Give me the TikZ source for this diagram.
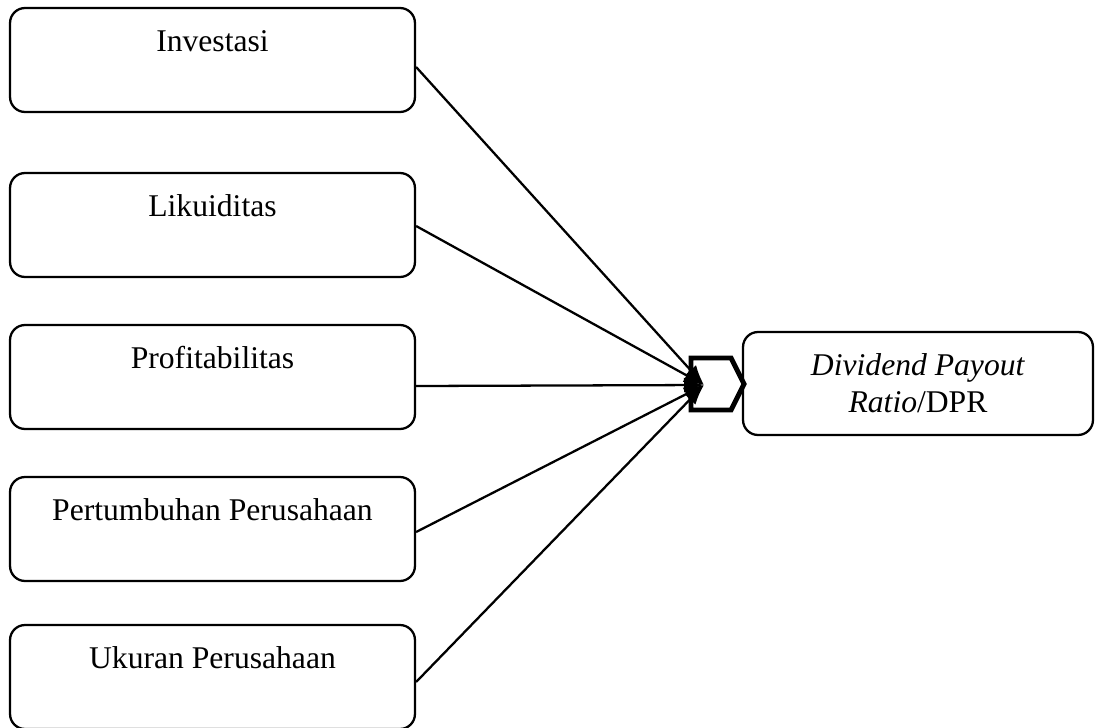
\documentclass[tikz,border=0pt]{standalone}
\usepackage{fontspec}
\setmainfont{Liberation Serif}
\usetikzlibrary{arrows.meta}

\begin{document}
\begin{tikzpicture}[x = 0.02cm, y = -0.02cm,
  box/.style = {draw, line width = 1.3pt, rounded corners = 0.3cm, minimum width = 8.1cm, minimum height = 2.08cm},
  boxtext/.style = {anchor = base, inner sep = 0pt, font = \fontsize{18}{20}\selectfont},
  link/.style = {line width = 1.3pt, -{Latex[length = 0.4cm, width = 0.3cm]}}]
\useasboundingbox (0,0) rectangle (1095,727);
\node [box] (inv) at (212.5,60) {};
\node [boxtext] (invtext) at ([yshift = -0.9cm]inv.north) {Investasi};
\node [box] (lik) at (212.5,225) {};
\node [boxtext] (liktext) at ([yshift = -0.9cm]lik.north) {Likuiditas};
\node [box] (prof) at (212.5,377) {};
\node [boxtext] (proftext) at ([yshift = -0.9cm]prof.north) {Profitabilitas};
\node [box] (pert) at (212.5,529) {};
\node [boxtext] (perttext) at ([yshift = -0.9cm]pert.north) {Pertumbuhan Perusahaan};
\node [box] (uk) at (212.5,677) {};
\node [boxtext] (uktext) at ([yshift = -0.9cm]uk.north) {Ukuran Perusahaan};
\node [box, minimum width = 7cm, minimum height = 2.06cm, align = center,
  font = \fontsize{18}{21}\selectfont] (dpr) at (918,383.5) {\textit{Dividend Payout}\\\textit{Ratio}/DPR};
\draw [line width = 2.8pt] (691,358) -- (731,358) -- (744,384) -- (731,410) -- (691,410) -- cycle;
\coordinate (hub) at (704,385);
\draw [link] ([yshift = -0.14cm]inv.east) -- (hub);
\draw [link] ([yshift = -0.02cm]lik.east) -- (hub);
\draw [link] ([yshift = -0.18cm]prof.east) -- (hub);
\draw [link] ([yshift = -0.06cm]pert.east) -- (hub);
\draw [link] ([yshift = -0.10cm]uk.east) -- (hub);
\end{tikzpicture}
\end{document}
